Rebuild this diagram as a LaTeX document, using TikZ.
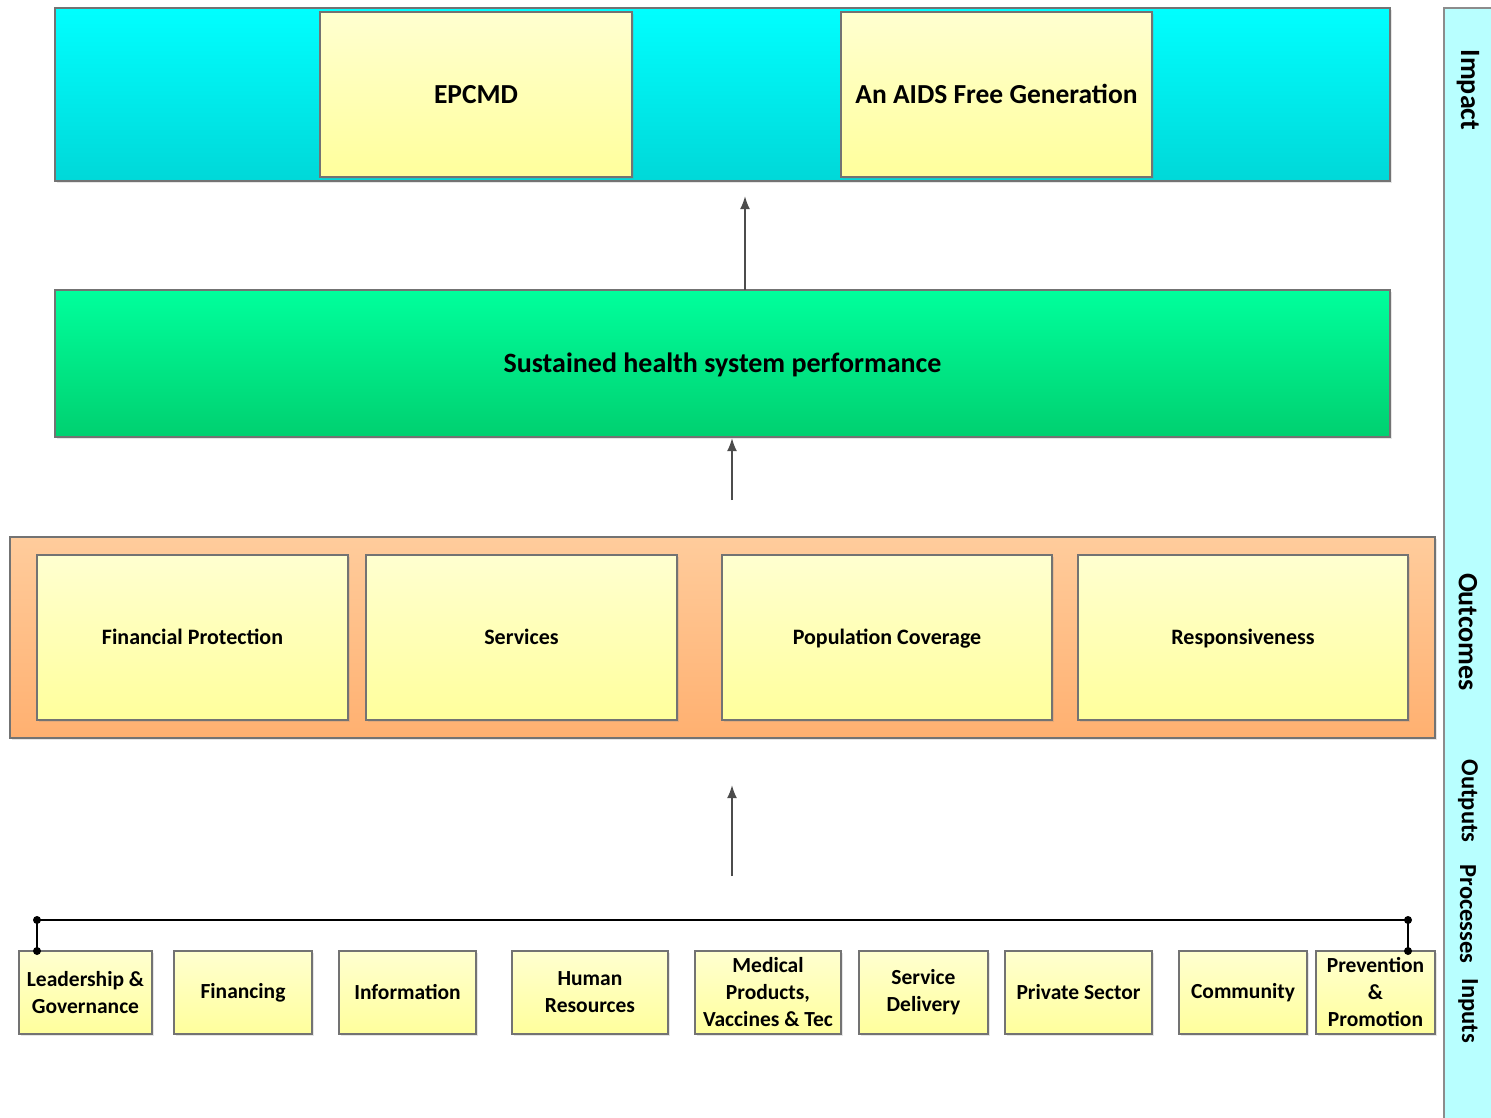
\documentclass[tikz,border=0pt]{standalone}
\usepackage{fontspec}
\setmainfont{Carlito}
\usetikzlibrary{fit}
\usetikzlibrary{calc}
\usetikzlibrary{arrows.meta}
\usetikzlibrary{shadows}

\definecolor{impactTop}{HTML}{00FFFF}
\definecolor{impactBot}{HTML}{00D8D8}
\definecolor{perfTop}{HTML}{00FF9C}
\definecolor{perfBot}{HTML}{00D070}
\definecolor{outTop}{HTML}{FFCC9C}
\definecolor{outBot}{HTML}{FFB070}
\definecolor{cellTop}{HTML}{FFFFD0}
\definecolor{cellBot}{HTML}{FFFF9C}
\definecolor{scaleFill}{HTML}{B8FFFF}

\begin{document}
\begin{tikzpicture}[x=1pt, y=-1pt,
  band/.style={draw=black!55, line width=1.2pt, inner sep=0pt, outer sep=0pt,
    drop shadow={opacity=0.2, shadow xshift=2pt, shadow yshift=-2pt}},
  cell/.style={band, top color=cellTop, bottom color=cellBot},
  bigtext/.style={font=\fontsize{27.5}{30}\selectfont\bfseries, text height=24.75pt, text depth=7pt},
  perftext/.style={font=\fontsize{28}{30}\selectfont\bfseries, text height=25.2pt, text depth=7.2pt},
  midtext/.style={font=\fontsize{22}{27}\selectfont\bfseries, text height=19.8pt, text depth=5.6pt},
  blocktext/.style={align=center, font=\fontsize{21.5}{27}\selectfont\bfseries},
  arr/.style={black!70, line width=2pt, -{Latex[length=13pt,width=10pt]}},
  bus/.style={black, line width=1.8pt},
  dot/.style={circle, fill=black, inner sep=0pt, minimum size=8pt},
  tag/.style={rotate=-90, font=\fontsize{28}{30}\selectfont\bfseries},
  smalltag/.style={rotate=-90, font=\fontsize{24.5}{26}\selectfont\bfseries},
]
\useasboundingbox (0,0) rectangle (1491,1117);

% impact level
\node (impact) [band, top color=impactTop, bottom color=impactBot, fit={(55,8) (1390,181)}] {};
\node (epcmd) [cell, fit={(320,12) (632,177)}, label={[bigtext]center:EPCMD}] {};
\node (aids) [cell, fit={(841,12) (1152,177)}, label={[bigtext]center:An AIDS Free Generation}] {};

% outcome level
\node (perf) [band, top color=perfTop, bottom color=perfBot, fit={(55,290) (1390,437)},
  label={[perftext]center:Sustained health system performance}] {};

% outputs
\node (outputs) [band, top color=outTop, bottom color=outBot, fit={(10,537) (1435,738)}] {};
\node (finprot) [cell, fit={(37,555) (348,720)}, label={[midtext]center:Financial Protection}] {};
\node (services) [cell, fit={(366,555) (677,720)}, label={[midtext]center:Services}] {};
\node (popcov) [cell, fit={(722,555) (1052,720)}, label={[midtext]center:Population Coverage}] {};
\node (resp) [cell, fit={(1078,555) (1408,720)}, label={[midtext]center:Responsiveness}] {};

% building blocks
\foreach \xa/\xb/\nm/\txt in {
  19/152/lead/{Leadership \&\\Governance},
  174/312/fin/{Financing},
  339/476/info/{Information},
  512/668/hr/{Human\\Resources},
  695/841/med/{Medical\\Products,\\Vaccines \& Tec},
  859/988/deliv/{Service\\Delivery},
  1005/1152/priv/{Private Sector},
  1179/1307/comm/{Community},
  1316/1435/prev/{Prevention\\\&\\Promotion}} {
  \node (\nm) [cell, fit={(\xa,951) (\xb,1034)}, label={[blocktext]center:{\txt}}] {};
}

\coordinate (busL) at (37,920);
\coordinate (busR) at (1408,920);
\draw[bus] (lead.north -| busL) -- (busL) -- (busR) -- (prev.north -| busR);
\node (d1) [dot] at (busL) {};
\node (d2) [dot] at (busR) {};
\node (d3) [dot] at (lead.north -| busL) {};
\node (d4) [dot] at (prev.north -| busR) {};

% arrows between levels
\coordinate (up1) at (745,196);
\coordinate (up2a) at (732,500);
\coordinate (up2b) at (732,438);
\coordinate (up3a) at (732,876);
\coordinate (up3b) at (732,785);
\draw[arr] (perf.north -| up1) -- (up1);
\draw[arr] (up2a) -- (up2b);
\draw[arr] (up3a) -- (up3b);

% scale on the right
\node (scale) [draw=black!45, line width=1.5pt, fill=scaleFill, inner sep=0pt, fit={(1444,8) (1500,1125)}] {};
\node (lImpact) [tag] at (1468,90) {Impact};
\node (lOutcomes) [tag] at (1468,632) {Outcomes};
\node (lOutputs) [smalltag] at (1468,801) {Outputs};
\node (lProcesses) [smalltag] at (1468,914) {Processes};
\node (lInputs) [smalltag] at (1468,1011) {Inputs};
\end{tikzpicture}
\end{document}
